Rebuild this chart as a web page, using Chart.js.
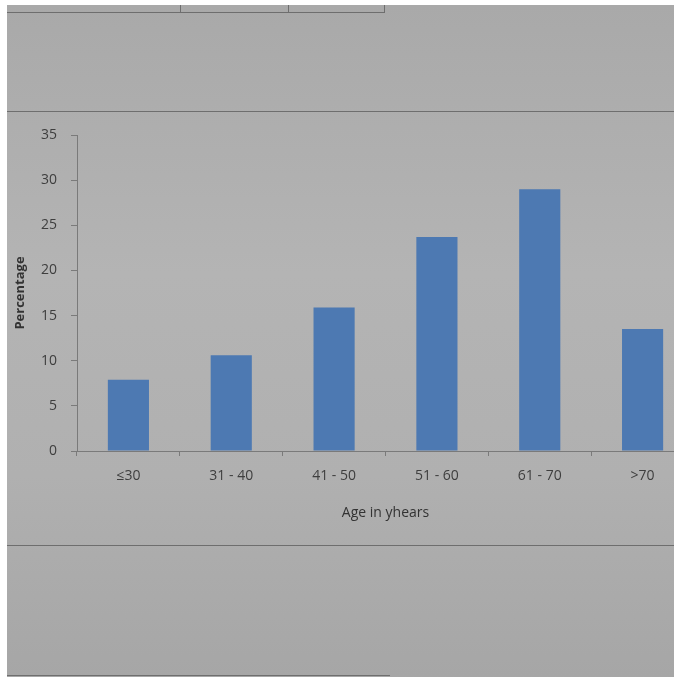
<!DOCTYPE html>
<html>
<head>
<meta charset="utf-8">
<script src="https://cdn.jsdelivr.net/npm/chart.js@4/dist/chart.umd.min.js"></script>
<style>
	html, body { margin: 0; padding: 0; }
	body {
		width: 674px;
		height: 677px;
		overflow: hidden;
		position: relative;
		background: #fff;
	}
	/* photographed sheet of paper */
	.paper {
		position: absolute;
		left: 7px;
		top: 5px;
		right: 0;
		bottom: 0;
		background: linear-gradient(180deg, #a9a9a9 0%, #b4b4b4 40%, #b0b0b0 70%, #a6a6a6 100%);
	}
	.rule { position: absolute; background: #6e6e6e; height: 1px; }
	.vrule { position: absolute; background: #6e6e6e; width: 1px; }
	.chartBox {
		position: absolute;
		left: 0;
		top: 110px;
		width: 694px;
		height: 411px;
	}
</style>
</head>
<body>
<div class="paper"></div>
<div class="rule" style="left:7px; top:12px; width:378px;"></div>
<div class="vrule" style="left:180px; top:5px; height:8px;"></div>
<div class="vrule" style="left:288px; top:5px; height:8px;"></div>
<div class="vrule" style="left:384px; top:5px; height:8px;"></div>
<div class="rule" style="left:7px; top:111px; width:667px;"></div>
<div class="rule" style="left:7px; top:545px; width:667px;"></div>
<div class="rule" style="left:7px; top:675px; width:383px;"></div>
<div class="chartBox"><canvas id="chart"></canvas></div>
<script>
	// age groups and share of patients (%)
	const ageGroups = ['≤30', '31 - 40', '41 - 50', '51 - 60', '61 - 70', '>70'];
	const percentages = [7.9, 10.6, 15.9, 23.7, 29.0, 13.5];
	const yTicks = [0, 5, 10, 15, 20, 25, 30, 35];

	const textColor = '#3e3e3e';
	const axisColor = '#7a7a7a';
	const fontFamily = '"Open Sans", "Liberation Sans", sans-serif';

	let chartEl = document.getElementById('chart');

	new Chart(chartEl, {
		type: 'bar',
		data: {
			labels: ageGroups,
			datasets: [{
				data: percentages,
				backgroundColor: '#4d79b2',
				borderWidth: 0,
				barPercentage: 0.4,
				categoryPercentage: 1,
			}],
		},
		options: {
			responsive: true,
			maintainAspectRatio: false,
			animation: false,
			layout: { padding: { top: 25, right: 0, bottom: 0, left: 0 } },
			plugins: {
				legend: { display: false },
				tooltip: { enabled: false },
			},
			scales: {
				x: {
					grid: {
						display: true,
						drawOnChartArea: false,
						drawTicks: true,
						tickLength: 5,
						color: axisColor,
					},
					border: { display: true, color: axisColor, width: 1 },
					ticks: {
						color: textColor,
						padding: 12,
						font: { family: fontFamily, size: 14 },
						maxRotation: 0,
					},
					title: {
						display: true,
						text: 'Age in yhears',
						color: '#333',
						font: { family: fontFamily, size: 14 },
						padding: { top: 6, bottom: 0 },
					},
					afterFit: (scale) => { scale.height = 70; },
				},
				y: {
					min: 0,
					max: 35,
					afterBuildTicks: (scale) => {
						scale.ticks = yTicks.map(v => ({ value: v }));
					},
					grid: {
						display: true,
						drawOnChartArea: false,
						drawTicks: true,
						tickLength: 6,
						color: axisColor,
					},
					border: { display: true, color: axisColor, width: 1 },
					ticks: {
						color: textColor,
						padding: 14,
						font: { family: fontFamily, size: 14 },
					},
					title: {
						display: true,
						text: 'Percentage',
						color: '#333',
						font: { family: fontFamily, size: 13, weight: 'bold' },
						padding: { top: 12, bottom: 0 },
					},
					afterFit: (scale) => { scale.width = 77; },
				},
			},
		},
	});
</script>
</body>
</html>
